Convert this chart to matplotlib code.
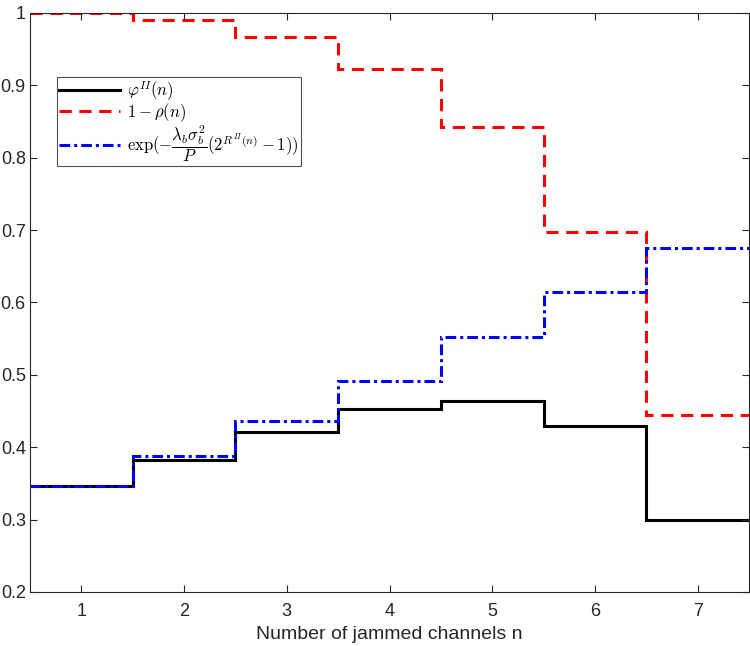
import numpy as np
import matplotlib
matplotlib.use("Agg")
import matplotlib.pyplot as plt

n = np.array([1, 2, 3, 4, 5, 6, 7])
phi = [0.347, 0.383, 0.421, 0.453, 0.464, 0.429, 0.300]
one_minus_rho = [1.000, 0.990, 0.967, 0.923, 0.842, 0.698, 0.444]
exp_term = [0.347, 0.388, 0.436, 0.491, 0.552, 0.615, 0.675]
labels = [r'$\varphi^{II}(n)$', r'$1-\rho(n)$',
          r'$\exp(-\dfrac{\lambda_b\sigma_b^2}{P}(2^{R^{II}(n)}-1))$']

plt.rcParams['mathtext.fontset'] = 'cm'
plt.rcParams['font.family'] = ['Liberation Sans', 'DejaVu Sans']

fig = plt.figure(figsize=(7.5, 6.46), dpi=100)
ax = fig.add_axes([0.04, 0.0836, 0.9587, 0.8963])

edges = np.append(n - 0.5, n[-1] + 0.5)
ax.stairs(phi, edges, baseline=None, color='black', lw=2.2, ls='-', label=labels[0])
ax.stairs(one_minus_rho, edges, baseline=None, color='red', lw=2.2, ls=(0, (4, 2.5)), label=labels[1])
ax.stairs(exp_term, edges, baseline=None, color='blue', lw=2.2, ls=(0, (3.5, 1.3, 1, 1.3)), label=labels[2])

ax.set_xlim(0.5, 7.5)
ax.set_ylim(0.2, 1.0)
ax.set_xticks(n)
ax.set_yticks(np.round(np.arange(0.2, 1.01, 0.1), 1))
ax.set_yticklabels(['0.2', '0.3', '0.4', '0.5', '0.6', '0.7', '0.8', '0.9', '1'])
ax.tick_params(direction='in', top=True, right=True, labelsize=13, length=5, color='#262626', labelcolor='#262626')
ax.tick_params(axis='x', pad=8)
ax.tick_params(axis='y', pad=3)
for s in ax.spines.values():
    s.set_color('#262626')
    s.set_linewidth(0.8)
ax.set_xlabel('Number of jammed channels n', fontsize=14, color='#262626', labelpad=4)

leg = ax.legend(loc='upper left', bbox_to_anchor=(0.037, 0.889), fontsize=12,
                frameon=True, fancybox=False, edgecolor='#262626', handlelength=3.7,
                handletextpad=0.4, borderpad=0.12, labelspacing=-0.08, borderaxespad=0)
leg.get_frame().set_linewidth(0.8)

fig.savefig('out.png', dpi=100)
